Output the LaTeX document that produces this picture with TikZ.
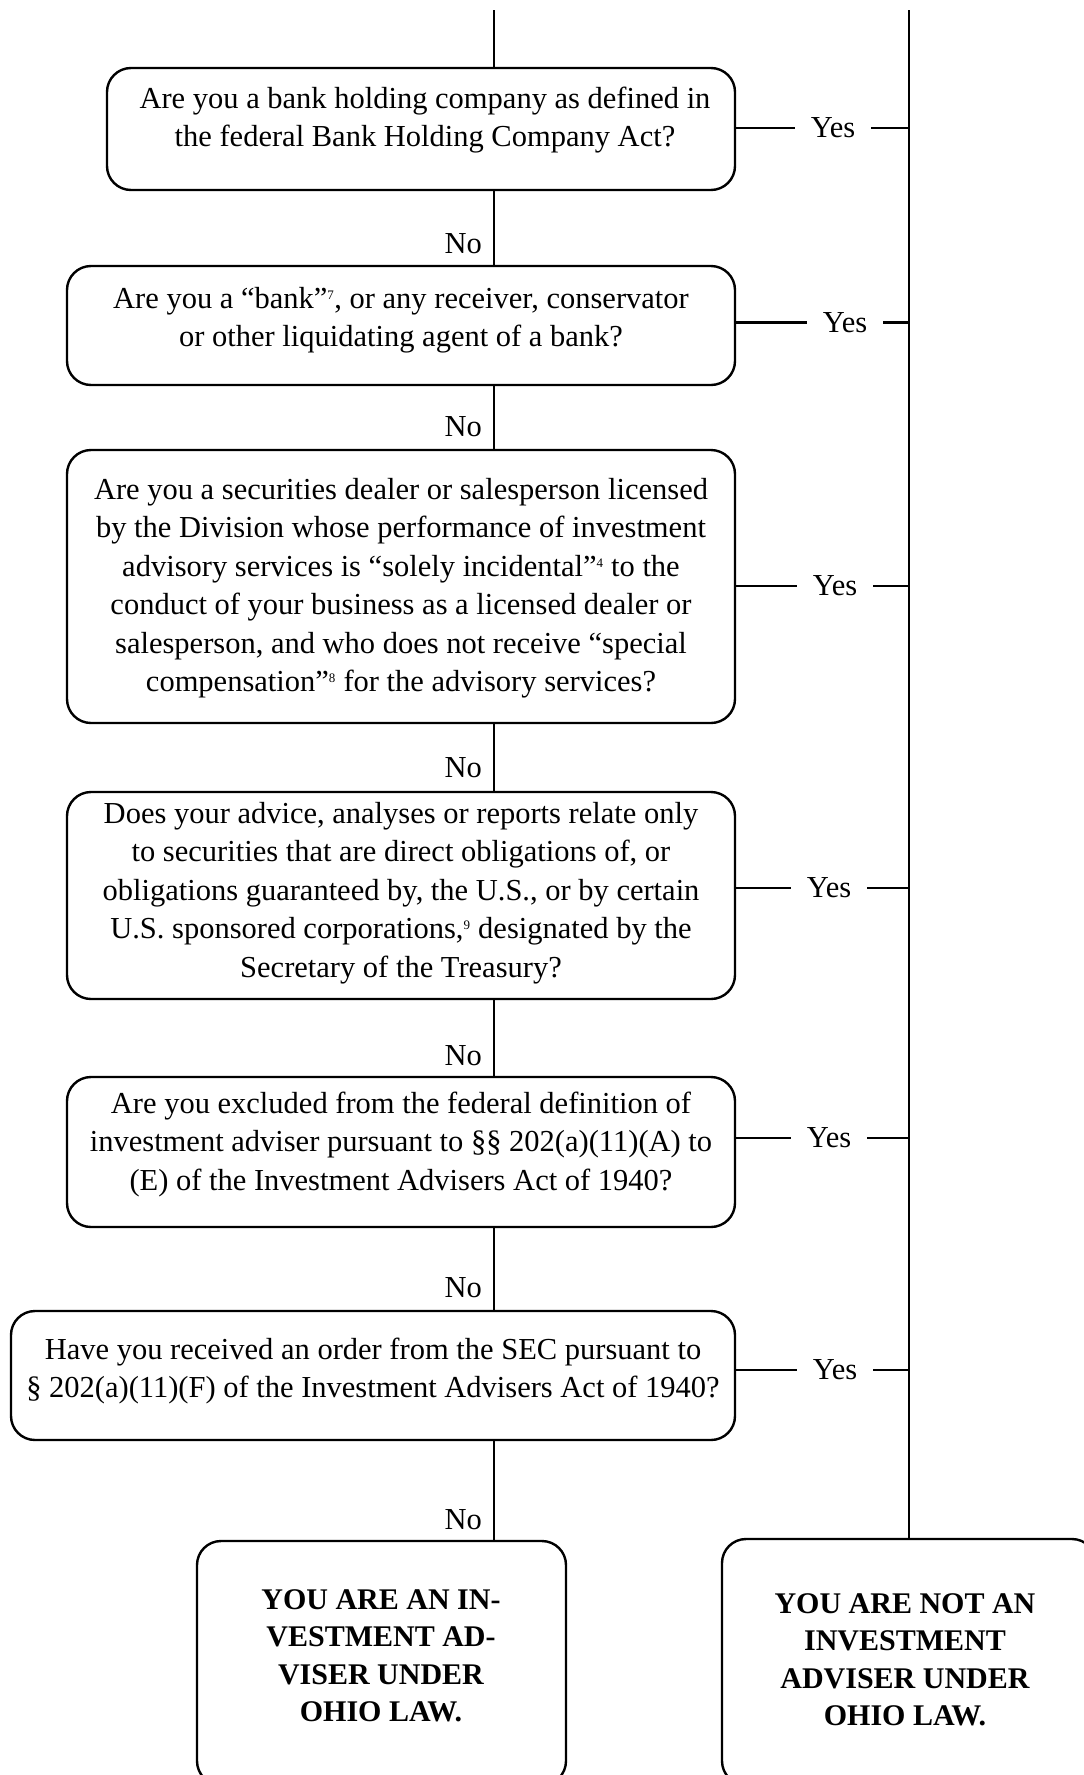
\documentclass[tikz,border=0pt]{standalone}
\usepackage{fontspec}
\setmainfont{Liberation Serif}
\newcommand\fnm[1]{\textsuperscript{\fontsize{13}{13}\selectfont #1}}
\tikzset{
  qbox/.style={draw, rounded corners=24pt, line width=2.4pt, inner sep=0pt},
  qtext/.style={align=center, font=\fontsize{30.5}{38.5}\selectfont, inner sep=0pt},
  otext/.style={align=center, font=\fontsize{30}{37.5}\selectfont\bfseries, inner sep=0pt},
  conn/.style={line width=1.9pt},
  yesline/.style={line width=2.8pt},
  yeslab/.style={font=\fontsize{30.5}{34}\selectfont, inner xsep=16pt, inner ysep=0pt},
  nolab/.style={font=\fontsize{30.5}{34}\selectfont, inner sep=0pt, anchor=east}
}
\begin{document}
\begin{tikzpicture}[x=1pt,y=-1pt]
\useasboundingbox (0,0) rectangle (1084,1775);
\clip (0,0) rectangle (1084,1775);
% boxes
\node[qbox, minimum width=628pt, minimum height=122pt] (b1) at (421,129) {};
\node[qbox, minimum width=668pt, minimum height=119pt] (b2) at (401,325.5) {};
\node[qbox, minimum width=668pt, minimum height=273pt] (b3) at (401,586.5) {};
\node[qbox, minimum width=668pt, minimum height=207pt] (b4) at (401,895.5) {};
\node[qbox, minimum width=668pt, minimum height=150pt] (b5) at (401,1152) {};
\node[qbox, minimum width=724pt, minimum height=129pt] (b6) at (373,1375.5) {};
\node[qbox, minimum width=369pt, minimum height=244pt] (b7) at (381.5,1663) {};
\node[qbox, minimum width=374pt, minimum height=246pt] (b8) at (909,1662) {};
% texts
\node[qtext] (t1) at (425,120) {Are you a bank holding company as defined in\\the federal Bank Holding Company Act?};
\node[qtext] (t2) at (401,320) {Are you a “bank”\fnm{7}, or any receiver, conservator\\or other liquidating agent of a bank?};
\node[qtext] (t3) at (401,588) {Are you a securities dealer or salesperson licensed\\by the Division whose performance of investment\\advisory services is “solely incidental”\fnm{4} to the\\conduct of your business as a licensed dealer or\\salesperson, and who does not receive “special\\compensation”\fnm{8} for the advisory services?};
\node[qtext] (t4) at (401,893) {Does your advice, analyses or reports relate only\\to securities that are direct obligations of, or\\obligations guaranteed by, the U.S., or by certain\\U.S. sponsored corporations,\fnm{9} designated by the\\Secretary of the Treasury?};
\node[qtext] (t5) at (401,1144) {Are you excluded from the federal definition of\\investment adviser pursuant to §§ 202(a)(11)(A) to\\(E) of the Investment Advisers Act of 1940?};
\node[qtext] (t6) at (373,1371) {Have you received an order from the SEC pursuant to\\§ 202(a)(11)(F) of the Investment Advisers Act of 1940?};
\node[otext] (t7) at (381,1656) {YOU ARE AN IN-\\VESTMENT AD-\\VISER UNDER\\OHIO LAW.};
\node[otext] (t8) at (905,1660) {YOU ARE NOT AN\\INVESTMENT\\ADVISER UNDER\\OHIO LAW.};
% main and right lines
\coordinate (mtop) at (494,10);
\coordinate (rtop) at (909,10);
\draw[conn] (mtop) -- (mtop |- b1.north);
\draw[conn] (b1.south -| mtop) -- (b2.north -| mtop);
\draw[conn] (b2.south -| mtop) -- (b3.north -| mtop);
\draw[conn] (b3.south -| mtop) -- (b4.north -| mtop);
\draw[conn] (b4.south -| mtop) -- (b5.north -| mtop);
\draw[conn] (b5.south -| mtop) -- (b6.north -| mtop);
\draw[conn] (b6.south -| mtop) -- (b7.north -| mtop);
\draw[conn] (rtop) -- (b8.north);
% No labels
\node[nolab] (n1) at (482,244) {No};
\node[nolab] (n2) at (482,427) {No};
\node[nolab] (n3) at (482,768) {No};
\node[nolab] (n4) at (482,1056) {No};
\node[nolab] (n5) at (482,1288) {No};
\node[nolab] (n6) at (482,1520) {No};
% Yes labels
\node[yeslab] (y1) at (833,128) {Yes};
\node[yeslab] (y2) at (845,322.5) {Yes};
\node[yeslab] (y3) at (835,586) {Yes};
\node[yeslab] (y4) at (829,888) {Yes};
\node[yeslab] (y5) at (829,1138) {Yes};
\node[yeslab] (y6) at (835,1370) {Yes};
\foreach \b/\y in {b1/y1,b2/y2,b3/y3,b4/y4,b5/y5,b6/y6}{
  \draw[yesline] (\y -| \b.east) -- (\y.west);
  \draw[yesline] (\y.east) -- (\y -| rtop);
}
\end{tikzpicture}
\end{document}
